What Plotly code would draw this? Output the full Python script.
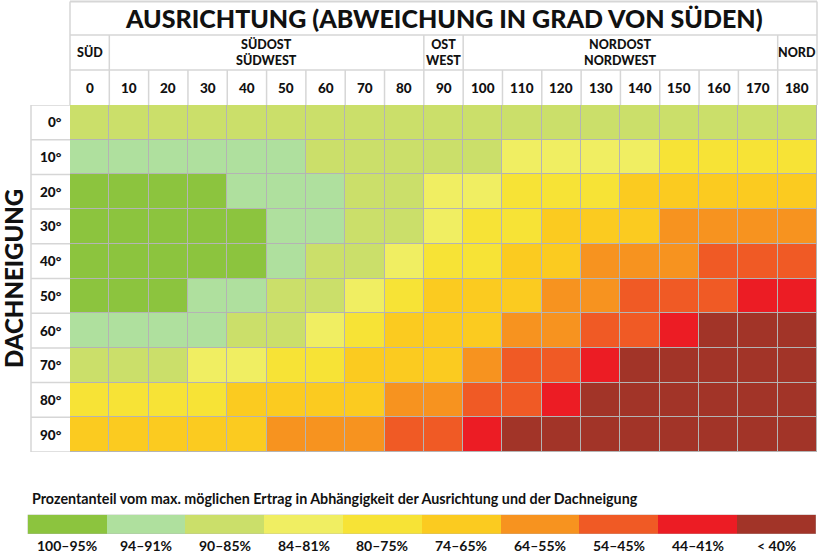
import plotly.graph_objects as go

W, H = 818, 554

orientation = [0, 10, 20, 30, 40, 50, 60, 70, 80, 90, 100, 110, 120, 130, 140, 150, 160, 170, 180]
tilt = [0, 10, 20, 30, 40, 50, 60, 70, 80, 90]
tilt_labels = ["0°", "10°", "20°", "30°", "40°", "50°", "60°", "70°", "80°", "90°"]

categories = ["100–95%", "94–91%", "90–85%", "84–81%", "80–75%",
              "74–65%", "64–55%", "54–45%", "44–41%", "< 40%"]
cat_colors = ["#8cc43e", "#afe09e", "#cbdf6a", "#f0ee62", "#f7e336",
              "#fbcb20", "#f7931f", "#f05a25", "#ec1c24", "#a23428"]

# category index per cell (rows = tilt, cols = orientation)
row_0 = [2, 2, 2, 2, 2, 2, 2, 2, 2, 2, 2, 2, 2, 2, 2, 2, 2, 2, 2]
row_10 = [1, 1, 1, 1, 1, 1, 2, 2, 2, 2, 2, 3, 3, 3, 3, 4, 4, 4, 4]
row_20 = [0, 0, 0, 0, 1, 1, 1, 2, 2, 3, 3, 4, 4, 4, 5, 5, 5, 5, 5]
row_30 = [0, 0, 0, 0, 0, 1, 1, 2, 2, 3, 4, 4, 5, 5, 5, 6, 6, 6, 6]
row_40 = [0, 0, 0, 0, 0, 1, 2, 2, 3, 4, 4, 5, 5, 6, 6, 6, 7, 7, 7]
row_50 = [0, 0, 0, 1, 1, 2, 2, 3, 4, 5, 5, 5, 6, 6, 7, 7, 7, 8, 8]
row_60 = [1, 1, 1, 1, 2, 2, 3, 4, 5, 5, 5, 6, 6, 7, 7, 8, 9, 9, 9]
row_70 = [2, 2, 2, 3, 3, 4, 4, 5, 5, 5, 6, 7, 7, 8, 9, 9, 9, 9, 9]
row_80 = [4, 4, 4, 4, 5, 5, 5, 5, 6, 6, 7, 7, 8, 9, 9, 9, 9, 9, 9]
row_90 = [5, 5, 5, 5, 5, 6, 6, 6, 7, 7, 8, 9, 9, 9, 9, 9, 9, 9, 9]
grid = [row_0, row_10, row_20, row_30, row_40, row_50, row_60, row_70, row_80, row_90]

direction_groups = [("SÜD", 0, 0), ("SÜDOST<br>SÜDWEST", 10, 80), ("OST<br>WEST", 90, 90),
                    ("NORDOST<br>NORDWEST", 100, 170), ("NORD", 180, 180)]

title_text = "AUSRICHTUNG (ABWEICHUNG IN GRAD VON SÜDEN)"
ytitle_text = "DACHNEIGUNG"
legend_title = "Prozentanteil vom max. möglichen Ertrag in Abhängigkeit der Ausrichtung und der Dachneigung"

FONT = "Lato"
BORDER = "#d6d6d6"


def px(x):
    return x / W


def py(y):
    return 1 - y / H


n = len(cat_colors)
colorscale = []
for i, c in enumerate(cat_colors):
    colorscale.append([i / n, c])
    colorscale.append([(i + 1) / n, c])

fig = go.Figure()
fig.add_trace(go.Heatmap(
    x=orientation, y=tilt, z=grid, zmin=-0.5, zmax=n - 0.5,
    colorscale=colorscale, showscale=False, xgap=1, ygap=1,
    hoverinfo="skip", xaxis="x", yaxis="y"))

fig.add_trace(go.Heatmap(
    x=list(range(n)), y=[0], z=[list(range(n))], zmin=-0.5, zmax=n - 0.5,
    colorscale=colorscale, showscale=False, hoverinfo="skip",
    xaxis="x2", yaxis="y2"))

shapes = []
ann = []

# header borders
hdr_top, hdr_dir, hdr_num, grid_top, grid_bot = 1.5, 35, 70, 105, 452
x_left, x_right = 70, 817
for yv in [hdr_top, hdr_dir, hdr_num]:
    shapes.append(dict(type="line", xref="paper", yref="paper", x0=px(x_left), x1=px(x_right),
                       y0=py(yv), y1=py(yv), line=dict(color=BORDER, width=2 if yv == hdr_top else 1.5)))
shapes.append(dict(type="line", xref="paper", yref="paper", x0=px(x_left), x1=px(x_left),
                   y0=py(hdr_top), y1=py(grid_top), line=dict(color=BORDER, width=1.5)))
shapes.append(dict(type="line", xref="paper", yref="paper", x0=px(x_right), x1=px(x_right),
                   y0=py(hdr_top), y1=py(grid_top), line=dict(color=BORDER, width=1.5)))
# number row dividers
for o in orientation[:-1]:
    shapes.append(dict(type="line", xref="x", yref="paper", x0=o + 5, x1=o + 5,
                       y0=py(hdr_num), y1=py(grid_top), line=dict(color=BORDER, width=1.5)))
# direction group dividers
for label, a, b in direction_groups[:-1]:
    shapes.append(dict(type="line", xref="x", yref="paper", x0=b + 5, x1=b + 5,
                       y0=py(hdr_dir), y1=py(hdr_num), line=dict(color=BORDER, width=1.5)))
# row label column borders
for t in tilt + [tilt[-1] + 10]:
    shapes.append(dict(type="line", xref="paper", yref="y", x0=px(31), x1=px(x_left),
                       y0=t - 5, y1=t - 5, line=dict(color=BORDER, width=1.5)))
shapes.append(dict(type="line", xref="paper", yref="paper", x0=px(31), x1=px(31),
                   y0=py(grid_top), y1=py(grid_bot), line=dict(color=BORDER, width=1.5)))

# texts
ann.append(dict(text=title_text, xref="paper", yref="paper", x=(px(x_left) + px(x_right)) / 2 + px(0.5),
                y=py(18), showarrow=False, xanchor="center", yanchor="middle",
                font=dict(family=FONT, size=25, color="#111", weight=900)))
for label, a, b in direction_groups:
    ann.append(dict(text=label, xref="x", yref="paper", x=(a + b) / 2, y=py(52.5),
                    showarrow=False, xanchor="center", yanchor="middle",
                    font=dict(family=FONT, size=12.5, color="#111", weight=900)))
for o in orientation:
    ann.append(dict(text=str(o), xref="x", yref="paper", x=o, y=py(88),
                    showarrow=False, xanchor="center", yanchor="middle",
                    font=dict(family=FONT, size=13.5, color="#111", weight=900)))
for t, lab in zip(tilt, tilt_labels):
    ann.append(dict(text=lab, xref="paper", yref="y", x=px(64), y=t,
                    showarrow=False, xanchor="right", yanchor="middle",
                    font=dict(family=FONT, size=13.5, color="#111", weight=900)))
ann.append(dict(text=ytitle_text, xref="paper", yref="paper", x=px(13), y=py(279),
                showarrow=False, xanchor="center", yanchor="middle", textangle=-90,
                font=dict(family=FONT, size=24, color="#111", weight=900)))
ann.append(dict(text=legend_title, xref="paper", yref="paper", x=px(30), y=py(498),
                showarrow=False, xanchor="left", yanchor="middle",
                font=dict(family=FONT, size=14.3, color="#111", weight=700)))
for i, c in enumerate(categories):
    ann.append(dict(text=c, xref="x2", yref="paper", x=i, y=py(545),
                    showarrow=False, xanchor="center", yanchor="middle",
                    font=dict(family=FONT, size=14, color="#111", weight=700)))

fig.update_layout(
    width=W, height=H, margin=dict(l=0, r=0, t=0, b=0),
    paper_bgcolor="white", plot_bgcolor="#b4b4b4",
    xaxis=dict(domain=[px(x_left), px(x_right)], range=[-5, 185], visible=False, fixedrange=True),
    yaxis=dict(domain=[py(grid_bot), py(grid_top)], range=[95, -5], visible=False, fixedrange=True),
    xaxis2=dict(domain=[px(27.7), px(816)], range=[-0.5, n - 0.5], visible=False, anchor="y2",
                fixedrange=True),
    yaxis2=dict(domain=[py(534), py(514.7)], range=[-0.5, 0.5], visible=False, anchor="x2",
                fixedrange=True),
    shapes=shapes, annotations=ann, showlegend=False,
)

fig.write_html("out.html", config={"displayModeBar": False},
               post_script="document.body.style.margin='0';document.body.style.overflow='hidden';")
